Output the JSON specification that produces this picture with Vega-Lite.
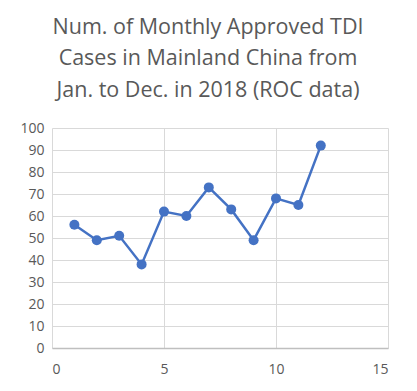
{
  "$schema": "https://vega.github.io/schema/vega-lite/v6.json",
  "width": 336,
  "height": 220,
  "autosize": "none",
  "padding": {"left": 52, "top": 128, "right": 29, "bottom": 43},
  "background": "white",
  "title": {
    "text": ["Num. of Monthly Approved TDI", "Cases in Mainland China from", "Jan. to Dec. in 2018 (ROC data)"],
    "font": "Open Sans",
    "fontSize": 21.5,
    "fontWeight": "normal",
    "color": "#595959",
    "lineHeight": 31.5,
    "anchor": "middle",
    "dx": -12,
    "offset": 20
  },
  "config": {
    "view": {"stroke": null},
    "axis": {
      "labelFont": "Open Sans",
      "labelFontSize": 14,
      "labelColor": "#595959",
      "gridColor": "#D9D9D9",
      "gridWidth": 1,
      "ticks": false,
      "domain": false,
      "title": null
    }
  },
  "data": {
    "values": [
      {"month": 1, "cases": 56},
      {"month": 2, "cases": 49},
      {"month": 3, "cases": 51},
      {"month": 4, "cases": 38},
      {"month": 5, "cases": 62},
      {"month": 6, "cases": 60},
      {"month": 7, "cases": 73},
      {"month": 8, "cases": 63},
      {"month": 9, "cases": 49},
      {"month": 10, "cases": 68},
      {"month": 11, "cases": 65},
      {"month": 12, "cases": 92}
    ]
  },
  "mark": {"type": "line", "color": "#4472C4", "strokeWidth": 2.5, "point": {"filled": true, "size": 100, "color": "#4472C4"}},
  "encoding": {
    "x": {
      "field": "month",
      "type": "quantitative",
      "scale": {"domain": [0, 15], "nice": false, "zero": false},
      "axis": {"values": [0, 5, 10, 15], "labelPadding": 14, "domain": true, "domainColor": "#BFBFBF", "domainWidth": 1.5}
    },
    "y": {
      "field": "cases",
      "type": "quantitative",
      "scale": {"domain": [0, 100], "nice": false},
      "axis": {"values": [0, 10, 20, 30, 40, 50, 60, 70, 80, 90, 100], "labelPadding": 8}
    }
  }
}
